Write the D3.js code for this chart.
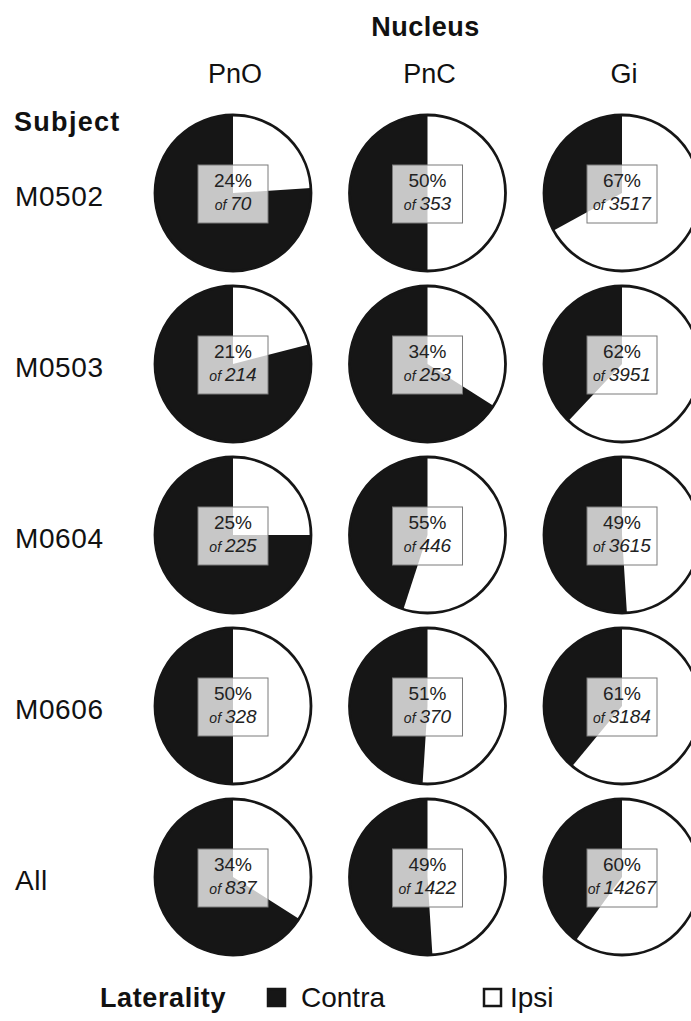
<!DOCTYPE html>
<html>
<head>
<meta charset="utf-8">
<script src="https://cdn.jsdelivr.net/npm/d3@7/dist/d3.min.js"></script>
<style>
  html, body { margin: 0; padding: 0; background: #fff; }
  svg { display: block; font-family: "Liberation Sans", Arial, sans-serif; }
</style>
</head>
<body>
<svg id="chart" width="691" height="1021"></svg>
<script>
// Nuclei (columns) and subjects (rows)
const nuclei = ["PnO", "PnC", "Gi"];
const subjects = ["M0502", "M0503", "M0604", "M0606", "All"];

// Percentage of ipsilateral cells, per subject row and nucleus column
const ipsiPct = [
  [24, 50, 67],
  [21, 34, 62],
  [25, 55, 49],
  [50, 51, 61],
  [34, 49, 60]
];

// Total cell counts, per subject row and nucleus column
const totals = [
  [70, 353, 3517],
  [214, 253, 3951],
  [225, 446, 3615],
  [328, 370, 3184],
  [837, 1422, 14267]
];

const legendItems = ["Contra", "Ipsi"];

const svg = d3.select("#chart");

const BLACK = "#161616";
const radius = 78;

const x = d3.scalePoint().domain(nuclei).range([233, 622]);
const y = d3.scalePoint().domain(subjects).range([193, 877]);
const colour = d3.scaleOrdinal().domain(legendItems).range([BLACK, "#ffffff"]);

const pie = d3.pie().sort(null).value(d => d.value);
const arc = d3.arc().innerRadius(0).outerRadius(radius);

// Header texts
svg.append("text")
  .attr("x", x("PnC") - 2).attr("y", 36)
  .attr("text-anchor", "middle")
  .attr("font-weight", "bold").attr("font-size", 27)
  .attr("letter-spacing", 0.5)
  .attr("fill", "#111")
  .text("Nucleus");

svg.selectAll(".col-label")
  .data(nuclei)
  .join("text")
  .attr("class", "col-label")
  .attr("x", d => x(d) + 2).attr("y", 83)
  .attr("text-anchor", "middle")
  .attr("font-size", 27)
  .attr("fill", "#111")
  .text(d => d);

svg.append("text")
  .attr("x", 14).attr("y", 131)
  .attr("font-weight", "bold").attr("font-size", 27)
  .attr("letter-spacing", 1.3)
  .attr("fill", "#111")
  .text("Subject");

svg.selectAll(".row-label")
  .data(subjects)
  .join("text")
  .attr("class", "row-label")
  .attr("x", 15).attr("y", d => y(d) + 13)
  .attr("font-size", 28)
  .attr("letter-spacing", 0.6)
  .attr("fill", "#111")
  .text(d => d);

// One pie per subject × nucleus
const cells = [];
subjects.forEach((s, i) => {
  nuclei.forEach((n, j) => {
    cells.push({ subject: s, nucleus: n, pct: ipsiPct[i][j], total: totals[i][j] });
  });
});

const g = svg.selectAll(".cell")
  .data(cells)
  .join("g")
  .attr("class", "cell")
  .attr("transform", d => `translate(${x(d.nucleus)},${y(d.subject)})`);

g.selectAll("path")
  .data(d => pie([
    { key: "Ipsi", value: d.pct },
    { key: "Contra", value: 100 - d.pct }
  ]))
  .join("path")
  .attr("d", arc)
  .attr("fill", d => colour(d.data.key));

g.append("circle")
  .attr("r", radius)
  .attr("fill", "none")
  .attr("stroke", BLACK)
  .attr("stroke-width", 2.8);

// Label boxes
const boxW = 70, boxH = 58;
g.append("rect")
  .attr("x", -boxW / 2).attr("y", -boxH / 2 + 1)
  .attr("width", boxW).attr("height", boxH)
  .attr("fill", "#ffffff").attr("fill-opacity", 0.76)
  .attr("stroke", "#7a7a7a").attr("stroke-width", 1);

g.append("text")
  .attr("y", -6)
  .attr("text-anchor", "middle")
  .attr("font-size", 19)
  .attr("fill", "#222")
  .text(d => d.pct + "%");

const t2 = g.append("text")
  .attr("y", 17)
  .attr("text-anchor", "middle")
  .attr("font-style", "italic")
  .attr("fill", "#222");
t2.append("tspan").attr("font-size", 14).text("of ");
t2.append("tspan").attr("font-size", 19).text(d => d.total);

// Legend
const ly = 1007;
svg.append("text")
  .attr("x", 100).attr("y", ly)
  .attr("font-weight", "bold").attr("font-size", 27)
  .attr("letter-spacing", 0.6)
  .attr("fill", "#111")
  .text("Laterality");

const legendX = d3.scaleOrdinal().domain(legendItems).range([267, 483]);
const lg = svg.selectAll(".legend")
  .data(legendItems)
  .join("g")
  .attr("class", "legend")
  .attr("transform", d => `translate(${legendX(d)},${ly - 19})`);

lg.append("rect")
  .attr("x", 1).attr("y", 1)
  .attr("width", 17).attr("height", 17)
  .attr("fill", d => colour(d))
  .attr("stroke", BLACK).attr("stroke-width", 2.5);

lg.append("text")
  .attr("x", d => d === "Contra" ? 34 : 27).attr("y", 19)
  .attr("font-size", 28)
  .attr("fill", "#111")
  .text(d => d);
</script>
</body>
</html>
